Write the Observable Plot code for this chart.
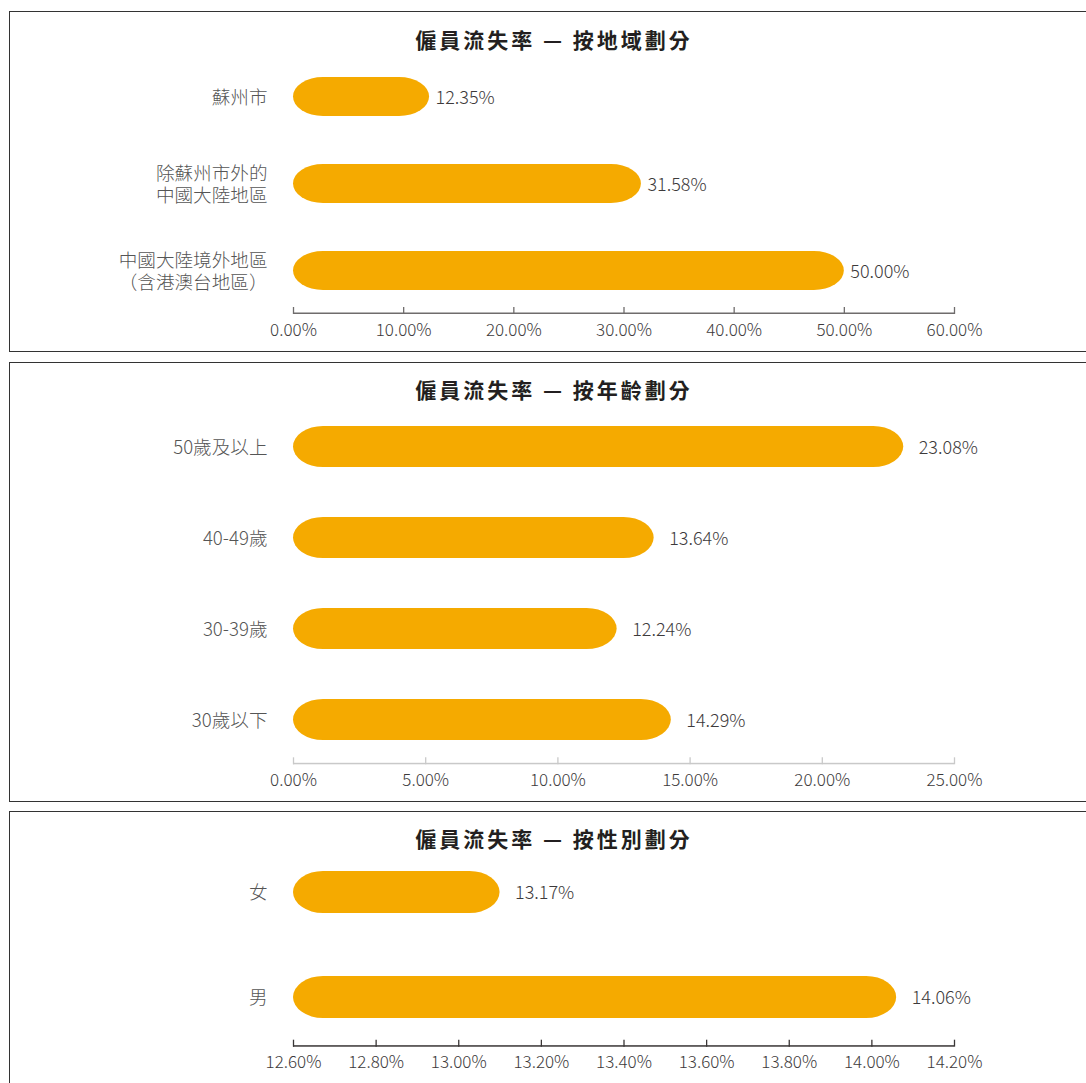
<!DOCTYPE html>
<html><head><meta charset="utf-8">
<script src="https://cdn.jsdelivr.net/npm/d3@7"></script>
<script src="https://cdn.jsdelivr.net/npm/@observablehq/plot@0.6"></script>
<style>
html,body{margin:0;padding:0;background:#fff;overflow:hidden;width:1086px;height:1083px;position:relative;}
.frame{position:absolute;left:9px;width:1110px;border:1.5px solid #333;box-sizing:border-box;z-index:2;pointer-events:none;}
.title{position:absolute;left:0;width:1108px;text-align:center;font-family:"Noto Sans CJK TC","Noto Sans CJK SC",sans-serif;font-weight:700;font-size:21px;letter-spacing:3px;color:#231f20;height:28px;line-height:28px;z-index:3;}
.holder{position:absolute;left:0;z-index:1;}
</style></head><body>
<script>
// ---- Data ----
const regionTitle = "僱員流失率 — 按地域劃分";
const regionCategories = ["蘇州市", "除蘇州市外的\n中國大陸地區", "中國大陸境外地區\n（含港澳台地區）"];
const regionValues = [12.35, 31.58, 50.00];
const regionLabels = ["12.35%", "31.58%", "50.00%"];
const regionTicks = [0, 10, 20, 30, 40, 50, 60];

const ageTitle = "僱員流失率 — 按年齡劃分";
const ageCategories = ["50歲及以上", "40-49歲", "30-39歲", "30歲以下"];
const ageValues = [23.08, 13.64, 12.24, 14.29];
const ageLabels = ["23.08%", "13.64%", "12.24%", "14.29%"];
const ageTicks = [0, 5, 10, 15, 20, 25];

const genderTitle = "僱員流失率 — 按性別劃分";
const genderCategories = ["女", "男"];
const genderValues = [13.10, 14.06];   // bar lengths as drawn
const genderLabels = ["13.17%", "14.06%"];
const genderTicks = [12.6, 12.8, 13.0, 13.2, 13.4, 13.6, 13.8, 14.0, 14.2];

const FONT = "'Noto Sans CJK TC','Noto Sans CJK SC',sans-serif";
const BAR = "#F5AA00";

function addBox(top, height) {
  const d = document.createElement("div");
  d.className = "frame";
  d.style.top = top + "px";
  d.style.height = height + "px";
  document.body.appendChild(d);
}
function addTitle(text, centerY) {
  const t = document.createElement("div");
  t.className = "title";
  t.textContent = text;
  t.style.top = (centerY - 14) + "px";
  document.body.appendChild(t);
}

function panel({categories, values, labels, ticks, svgTop, height, yRange, pad, marginBottom, axisColor, labelDx}) {
  const rows = categories.map((c, i) => ({cat: c, value: values[i], label: labels[i]}));
  const x0 = ticks[0], x1 = ticks[ticks.length - 1];
  const H = height - marginBottom;
  const plot = Plot.plot({
    width: 1086, height,
    marginLeft: 293, marginRight: 132, marginTop: 0, marginBottom,
    style: {background: "transparent", fontFamily: FONT, overflow: "visible"},
    x: {domain: [x0, x1], axis: null},
    y: {domain: categories, range: yRange, paddingInner: pad, paddingOuter: pad / 2, axis: null},
    marks: [
      Plot.barX(rows, {x1: () => x0, x2: "value", y: "cat", fill: BAR, rx: 30}),
      Plot.text(rows, {x: "value", y: "cat", text: "label", textAnchor: "start", dx: labelDx, dy: 1, fontSize: 18, fill: "#3d3a3b", fontWeight: 300}),
      Plot.axisY({tickSize: 0, tickPadding: 26, fontSize: 18.6, lineHeight: 1.15, fill: "#555", fontWeight: 300, label: null}),
      Plot.barX([{a: x0, b: x1}], {x1: "a", x2: "b", fill: axisColor, insetTop: H - 1.5}),
      Plot.tickX(ticks, {x: d => d, stroke: axisColor, strokeWidth: 1.3, insetTop: H - 7}),
      Plot.axisX(ticks, {tickSize: 0, tickPadding: 9, tickFormat: d => d.toFixed(2) + "%", fontSize: 17, fill: "#3d3a3b", fontWeight: 300, label: null})
    ]
  });
  const h = document.createElement("div");
  h.className = "holder";
  h.style.top = svgTop + "px";
  h.appendChild(plot);
  document.body.appendChild(h);
}

// Panel 1
addBox(11, 341);
addTitle(regionTitle, 39);
panel({categories: regionCategories, values: regionValues, labels: regionLabels, ticks: regionTicks,
  svgTop: 13, height: 338, yRange: [39.75, 302.25], pad: 0.549, marginBottom: 37, axisColor: "#6f6c6c", labelDx: 6});

// Panel 2
addBox(362, 440);
addTitle(ageTitle, 389);
panel({categories: ageCategories, values: ageValues, labels: ageLabels, ticks: ageTicks,
  svgTop: 364, height: 436, yRange: [35.7, 402.3], pad: 0.553, marginBottom: 35.7, axisColor: "#c9c9c9", labelDx: 15});

// Panel 3
addBox(811, 300);
addTitle(genderTitle, 838);
panel({categories: genderCategories, values: genderValues, labels: genderLabels, ticks: genderTicks,
  svgTop: 813, height: 270, yRange: [26.5, 236.5], pad: 0.6, marginBottom: 36.3, axisColor: "#3a3636", labelDx: 15});
</script>
</body></html>
